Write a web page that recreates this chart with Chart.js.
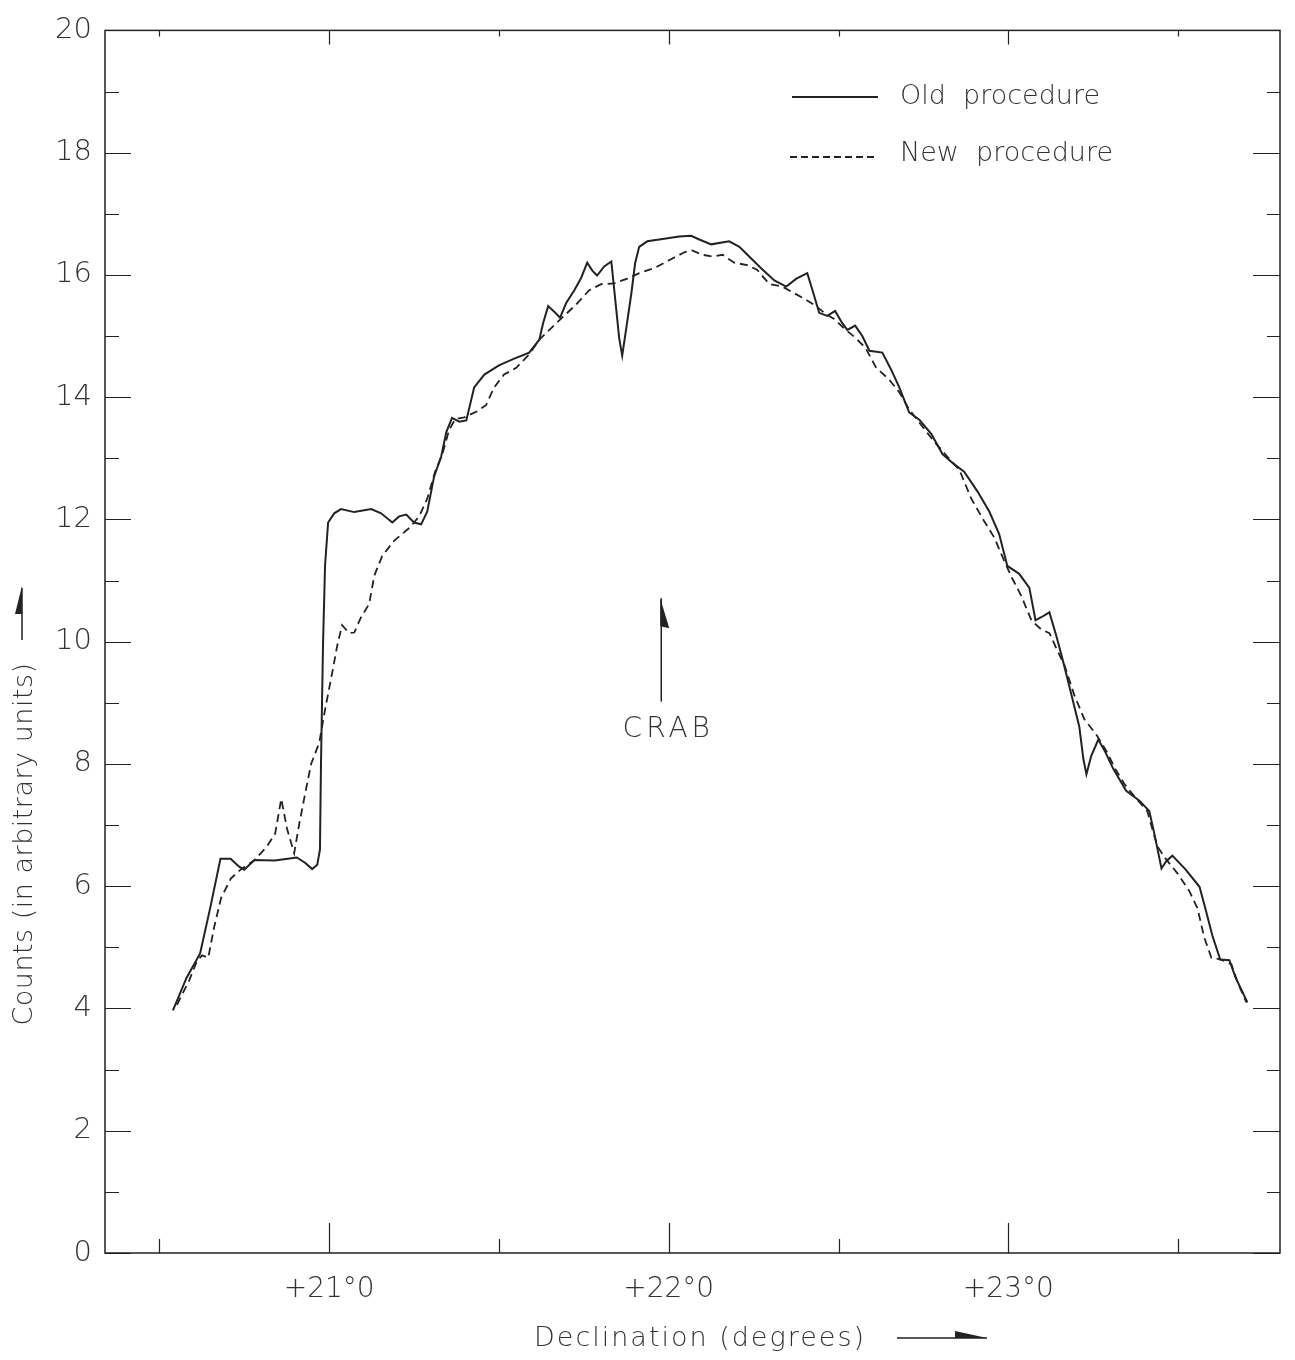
<!DOCTYPE html>
<html>
<head>
<meta charset="utf-8">
<script src="https://cdn.jsdelivr.net/npm/chart.js@4.4.1/dist/chart.umd.min.js"></script>
<style>
  html, body { margin: 0; padding: 0; background: #fff; }
  canvas { display: block; }
</style>
</head>
<body>
<canvas id="scan" width="1295" height="1360"></canvas>
<script>
// declination (deg) / counts for the two reduction procedures
const oldDecl = [20.54, 20.58, 20.62, 20.65, 20.68, 20.71, 20.735, 20.75, 20.78, 20.84, 20.905, 20.93, 20.95, 20.965, 20.973, 20.976, 20.982, 20.988, 20.997, 21.015, 21.035, 21.074, 21.124, 21.153, 21.186, 21.206, 21.227, 21.25, 21.271, 21.289, 21.309, 21.33, 21.345, 21.362, 21.383, 21.404, 21.427, 21.457, 21.5, 21.545, 21.589, 21.619, 21.63, 21.645, 21.666, 21.68, 21.698, 21.722, 21.742, 21.76, 21.775, 21.789, 21.81, 21.831, 21.845, 21.854, 21.863, 21.875, 21.89, 21.901, 21.913, 21.937, 21.987, 22.031, 22.066, 22.09, 22.125, 22.178, 22.208, 22.237, 22.272, 22.311, 22.346, 22.376, 22.408, 22.426, 22.443, 22.467, 22.49, 22.511, 22.526, 22.549, 22.57, 22.591, 22.629, 22.655, 22.679, 22.708, 22.738, 22.773, 22.806, 22.841, 22.87, 22.909, 22.944, 22.973, 22.997, 23.032, 23.062, 23.08, 23.097, 23.121, 23.141, 23.159, 23.186, 23.209, 23.221, 23.23, 23.244, 23.265, 23.286, 23.309, 23.347, 23.386, 23.415, 23.43, 23.451, 23.465, 23.483, 23.521, 23.563, 23.58, 23.601, 23.624, 23.651, 23.669, 23.704];
const oldCounts = [3.97, 4.5, 4.9, 5.65, 6.45, 6.45, 6.32, 6.27, 6.43, 6.42, 6.47, 6.38, 6.28, 6.35, 6.6, 8.0, 9.95, 11.25, 11.95, 12.1, 12.17, 12.12, 12.17, 12.1, 11.95, 12.05, 12.08, 11.95, 11.92, 12.13, 12.7, 13.03, 13.43, 13.66, 13.6, 13.62, 14.16, 14.37, 14.52, 14.63, 14.73, 14.94, 15.21, 15.49, 15.38, 15.3, 15.54, 15.75, 15.95, 16.2, 16.07, 15.99, 16.14, 16.22, 15.46, 14.97, 14.68, 15.13, 15.7, 16.19, 16.46, 16.55, 16.59, 16.63, 16.64, 16.58, 16.5, 16.55, 16.46, 16.3, 16.11, 15.91, 15.81, 15.94, 16.03, 15.7, 15.38, 15.33, 15.41, 15.21, 15.1, 15.17, 15.0, 14.76, 14.73, 14.45, 14.16, 13.75, 13.63, 13.4, 13.07, 12.9, 12.78, 12.46, 12.13, 11.76, 11.24, 11.11, 10.88, 10.35, 10.4, 10.48, 10.1, 9.73, 9.13, 8.61, 8.08, 7.83, 8.13, 8.4, 8.19, 7.92, 7.56, 7.4, 7.23, 6.86, 6.29, 6.41, 6.5, 6.28, 5.99, 5.64, 5.19, 4.8, 4.79, 4.51, 4.1];

const newDecl = [20.552, 20.588, 20.611, 20.626, 20.644, 20.661, 20.682, 20.711, 20.741, 20.779, 20.817, 20.841, 20.859, 20.876, 20.897, 20.912, 20.932, 20.947, 20.971, 20.988, 21.009, 21.024, 21.038, 21.059, 21.074, 21.094, 21.118, 21.133, 21.156, 21.191, 21.236, 21.265, 21.289, 21.312, 21.333, 21.353, 21.371, 21.398, 21.436, 21.462, 21.486, 21.515, 21.551, 21.589, 21.619, 21.654, 21.692, 21.728, 21.766, 21.801, 21.839, 21.878, 21.913, 21.957, 22.001, 22.046, 22.069, 22.099, 22.128, 22.158, 22.193, 22.231, 22.261, 22.296, 22.334, 22.37, 22.405, 22.434, 22.458, 22.487, 22.517, 22.546, 22.579, 22.611, 22.649, 22.679, 22.708, 22.744, 22.782, 22.82, 22.856, 22.891, 22.929, 22.959, 22.988, 23.012, 23.038, 23.068, 23.097, 23.121, 23.144, 23.165, 23.194, 23.224, 23.259, 23.289, 23.315, 23.342, 23.377, 23.409, 23.424, 23.439, 23.462, 23.498, 23.533, 23.557, 23.577, 23.598, 23.627, 23.657, 23.675, 23.701];
const newCounts = [4.06, 4.46, 4.78, 4.87, 4.83, 5.32, 5.81, 6.13, 6.28, 6.42, 6.65, 6.86, 7.43, 6.94, 6.54, 7.02, 7.59, 8.0, 8.35, 8.89, 9.49, 9.94, 10.27, 10.14, 10.15, 10.4, 10.62, 11.08, 11.4, 11.65, 11.86, 12.05, 12.34, 12.78, 13.06, 13.46, 13.64, 13.67, 13.77, 13.87, 14.16, 14.37, 14.48, 14.7, 14.94, 15.13, 15.33, 15.52, 15.75, 15.85, 15.86, 15.94, 16.03, 16.11, 16.24, 16.37, 16.4, 16.33, 16.3, 16.33, 16.2, 16.16, 16.08, 15.85, 15.81, 15.7, 15.59, 15.49, 15.38, 15.28, 15.12, 14.99, 14.81, 14.48, 14.29, 14.08, 13.8, 13.54, 13.27, 13.03, 12.81, 12.34, 11.97, 11.7, 11.32, 11.03, 10.75, 10.35, 10.2, 10.14, 9.86, 9.62, 9.13, 8.73, 8.48, 8.21, 7.92, 7.67, 7.43, 7.23, 6.94, 6.65, 6.46, 6.21, 5.92, 5.64, 5.16, 4.83, 4.8, 4.72, 4.43, 4.1];

const seriesNames = ['Old procedure', 'New procedure'];

// axis ticks
const xLabelValues = [21, 22, 23];
const xTickLabels = ['+21°0', '+22°0', '+23°0'];
const xTickMarks = [20.5, 21, 21.5, 22, 22.5, 23, 23.5];
const yLabelValues = [0, 2, 4, 6, 8, 10, 12, 14, 16, 18, 20];
const yTickMarks = [0, 1, 2, 3, 4, 5, 6, 7, 8, 9, 10, 11, 12, 13, 14, 15, 16, 17, 18, 19, 20];

// where the Crab sits in declination, and the arrow span in counts
const crabDecl = 21.978;
const crabArrow = [9.02, 10.71];

const INK = '#222';
const TEXT = '#333';
const FONT = "'DejaVu Sans', sans-serif";

function toPoints(xs, ys) {
  return xs.map((x, i) => ({ x: x, y: ys[i] }));
}

// frame, inward tick marks, legend, annotation and axis titles
const paperPlugin = {
  id: 'paper',
  afterDraw(chart) {
    const ctx = chart.ctx;
    const a = chart.chartArea;
    const xs = chart.scales.x;
    const ys = chart.scales.y;
    ctx.save();
    ctx.strokeStyle = INK;
    ctx.lineWidth = 1.5;
    ctx.strokeRect(a.left, a.top, a.right - a.left, a.bottom - a.top);

    ctx.beginPath();
    yTickMarks.forEach(v => {
      const py = Math.round(ys.getPixelForValue(v)) + 0.5;
      const major = v % 2 === 0;
      ctx.moveTo(a.left, py); ctx.lineTo(a.left + (major ? 26 : 14), py);
      ctx.moveTo(a.right, py); ctx.lineTo(a.right - (major ? 27 : 13), py);
    });
    xTickMarks.forEach(v => {
      const px = Math.round(xs.getPixelForValue(v)) + 0.5;
      const major = Number.isInteger(v);
      ctx.moveTo(px, a.bottom); ctx.lineTo(px, a.bottom - (major ? 30 : 14));
      ctx.moveTo(px, a.top); ctx.lineTo(px, a.top + (major ? 14 : 6));
    });
    ctx.lineWidth = 1.2;
    ctx.stroke();

    // legend
    ctx.lineWidth = 2;
    ctx.beginPath();
    ctx.moveTo(792, 97); ctx.lineTo(878, 97);
    ctx.stroke();
    ctx.setLineDash([7, 4]);
    ctx.beginPath();
    ctx.moveTo(790, 157); ctx.lineTo(878, 157);
    ctx.stroke();
    ctx.setLineDash([]);

    ctx.fillStyle = TEXT;
    ctx.font = '200 27px ' + FONT;
    ctx.letterSpacing = '0px';
    ctx.textAlign = 'left';
    ctx.textBaseline = 'middle';
    ctx.fillText('Old  procedure', 900, 97);
    ctx.fillText('New  procedure', 900, 154);

    // Crab marker
    const cx = xs.getPixelForValue(crabDecl);
    const y0 = ys.getPixelForValue(crabArrow[0]);
    const y1 = ys.getPixelForValue(crabArrow[1]);
    ctx.lineWidth = 1.5;
    ctx.beginPath();
    ctx.moveTo(cx, y0); ctx.lineTo(cx, y1);
    ctx.stroke();
    ctx.fillStyle = INK;
    ctx.beginPath();
    ctx.moveTo(cx - 1, y1); ctx.lineTo(cx + 8, y1 + 30); ctx.lineTo(cx - 1, y1 + 28);
    ctx.closePath();
    ctx.fill();
    ctx.fillStyle = TEXT;
    ctx.font = '200 28px ' + FONT;
    ctx.letterSpacing = '4px';
    ctx.textAlign = 'center';
    ctx.fillText('CRAB', cx + 7, y0 + 28);

    // x title with arrow
    ctx.font = '200 27px ' + FONT;
    ctx.letterSpacing = '2px';
    ctx.fillText('Declination (degrees)', 700, 1339);
    ctx.lineWidth = 1.5;
    ctx.strokeStyle = INK;
    ctx.beginPath();
    ctx.moveTo(897, 1338); ctx.lineTo(987, 1338);
    ctx.stroke();
    ctx.fillStyle = INK;
    ctx.beginPath();
    ctx.moveTo(987, 1338); ctx.lineTo(955, 1331); ctx.lineTo(955, 1338);
    ctx.closePath();
    ctx.fill();

    // y title with arrow
    ctx.save();
    ctx.translate(25, 844);
    ctx.rotate(-Math.PI / 2);
    ctx.fillStyle = TEXT;
    ctx.letterSpacing = '0.5px';
    ctx.fillText('Counts (in arbitrary units)', 0, 0);
    ctx.restore();
    ctx.beginPath();
    ctx.moveTo(22, 640); ctx.lineTo(22, 588);
    ctx.stroke();
    ctx.beginPath();
    ctx.moveTo(22, 586); ctx.lineTo(15, 614); ctx.lineTo(22, 614);
    ctx.closePath();
    ctx.fill();
    ctx.restore();
  }
};

new Chart(document.getElementById('scan').getContext('2d'), {
  type: 'scatter',
  data: {
    datasets: [
      {
        label: seriesNames[0],
        data: toPoints(oldDecl, oldCounts),
        showLine: true,
        borderColor: INK,
        borderWidth: 2,
        pointRadius: 0,
        tension: 0
      },
      {
        label: seriesNames[1],
        data: toPoints(newDecl, newCounts),
        showLine: true,
        borderColor: INK,
        borderWidth: 1.8,
        borderDash: [8, 5],
        pointRadius: 0,
        tension: 0
      }
    ]
  },
  options: {
    responsive: false,
    devicePixelRatio: 1,
    animation: false,
    layout: { padding: { top: 20, right: 15, left: 0, bottom: 0 } },
    plugins: {
      legend: { display: false },
      tooltip: { enabled: false }
    },
    scales: {
      x: {
        type: 'linear',
        min: 20.34,
        max: 23.8,
        afterBuildTicks: s => { s.ticks = xLabelValues.map(v => ({ value: v })); },
        afterFit: s => { s.height = 107; },
        grid: { display: false, drawTicks: false },
        border: { display: false },
        ticks: {
          autoSkip: false,
          maxRotation: 0,
          padding: 20,
          color: TEXT,
          font: { family: FONT, size: 28, weight: 200 },
          callback: v => xTickLabels[xLabelValues.indexOf(v)]
        }
      },
      y: {
        min: 0,
        max: 20,
        afterBuildTicks: s => { s.ticks = yLabelValues.map(v => ({ value: v })); },
        afterFit: s => { s.width = 105; },
        grid: { display: false, drawTicks: false },
        border: { display: false },
        ticks: {
          padding: 13,
          color: TEXT,
          font: { family: FONT, size: 29, weight: 200 },
          callback: v => String(v)
        }
      }
    }
  },
  plugins: [paperPlugin]
});
</script>
</body>
</html>
